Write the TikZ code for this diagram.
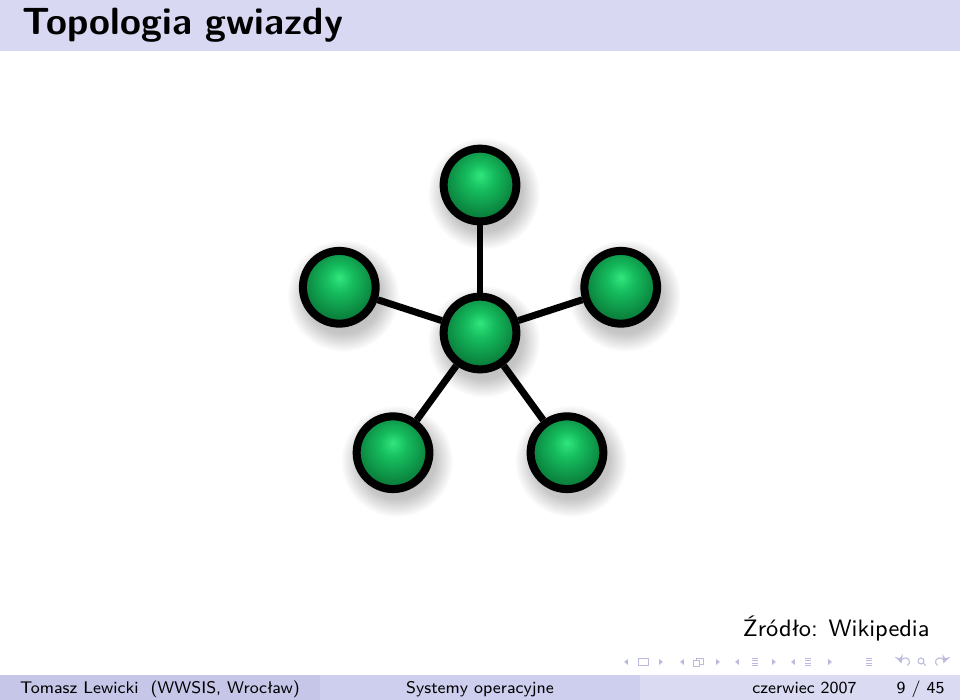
\documentclass[tikz,border=0pt]{standalone}
\usepackage{fontspec}
\usepackage{tikz}

\definecolor{titlebg}{RGB}{216,216,242}
\definecolor{footauthor}{RGB}{198,198,233}
\definecolor{foottitle}{RGB}{206,206,238}
\definecolor{footdate}{RGB}{218,218,243}
\definecolor{navgray}{RGB}{186,186,222}
\definecolor{ballhi}{RGB}{50,230,125}
\definecolor{ballmid}{RGB}{22,190,95}
\definecolor{balllo}{RGB}{10,128,60}

\pgfdeclareradialshading{greenball}{\pgfpoint{0bp}{7bp}}{color(0bp)=(ballhi); color(9bp)=(ballmid); color(25bp)=(balllo); color(50bp)=(balllo)}
\pgfdeclareradialshading{ballshadow}{\pgfpointorigin}{color(0bp)=(black!34); color(17bp)=(black!22); color(25bp)=(white); color(50bp)=(white)}

\tikzset{
  ball/.style={circle, draw=black, line width=1.07mm, minimum size=9.7mm, inner sep=0pt, shading=greenball},
  link/.style={line width=0.93mm, black},
  footlabel/.style={font=\fontsize{6.4}{7}\selectfont\sffamily, anchor=base, inner sep=0pt},
}

\begin{document}
\begin{tikzpicture}
\useasboundingbox (0,0) rectangle (12.8,9.333);
\fill[white] (0,0) rectangle (12.8,9.333);

% title bar
\fill[titlebg] (0,8.653) rectangle (12.8,9.333);
\node[anchor=base west, inner sep=0pt, font=\Large\bfseries\sffamily] (title) at (0.29,8.87) {Topologia gwiazdy};

% star
\coordinate (c) at (6.4,4.893);
\foreach \a in {90,18,306,234,162}
  \shade[shading=ballshadow] ([shift={(\a:1.973)}]c) ++(0.05,-0.11) circle (0.75);
\shade[shading=ballshadow] (c) ++(0.05,-0.11) circle (0.75);

\node[ball] (hub) at (c) {};
\foreach \a [count=\i] in {90,18,306,234,162}
  \node[ball] (pc\i) at ([shift={(\a:1.973)}]c) {};
\foreach \i in {1,...,5}
  \draw[link] (hub) -- (pc\i);

\node[anchor=base east, inner sep=0pt, font=\small\sffamily] (source) at (12.4,0.84) {Źródło: Wikipedia};

% navigation symbols
\foreach \x in {8.347,9.093,9.827,10.573}
  \fill[navgray] (\x+0.025,0.547) -- (\x-0.025,0.507) -- (\x+0.025,0.467) -- cycle;
\foreach \x in {8.813,9.573,10.32,11.067}
  \fill[navgray] (\x-0.025,0.547) -- (\x+0.025,0.507) -- (\x-0.025,0.467) -- cycle;
\draw[navgray, line width=0.35pt] (8.507,0.46) rectangle (8.64,0.553);
\draw[navgray, line width=0.35pt] (9.29,0.48) rectangle (9.38,0.56);
\filldraw[navgray, fill=white, line width=0.35pt] (9.24,0.45) rectangle (9.33,0.53);
\foreach \x in {10.067,10.773,11.587} {
  \draw[navgray, line width=0.35pt] (\x-0.045,0.46) -- (\x+0.045,0.46);
  \draw[navgray, line width=0.35pt] (\x-0.035,0.493) -- (\x+0.035,0.493);
  \draw[navgray, line width=0.35pt] (\x-0.035,0.522) -- (\x+0.035,0.522);
  \draw[navgray, line width=0.35pt] (\x-0.045,0.555) -- (\x+0.045,0.555);
}
\draw[navgray, line width=0.4pt, -stealth] (12.10,0.46) arc (-60:200:0.055);
\draw[navgray, line width=0.4pt] (12.28,0.52) circle (0.04) (12.308,0.492) -- (12.34,0.46);
\draw[navgray, line width=0.4pt, -stealth] (12.50,0.46) arc (240:-20:0.055);

% footline
\fill[footauthor] (0,0) rectangle (4.267,0.333);
\fill[foottitle] (4.267,0) rectangle (8.533,0.333);
\fill[footdate] (8.533,0) rectangle (12.8,0.333);
\node[footlabel] (author) at (2.133,0.08) {Tomasz Lewicki~~(WWSIS, Wrocław)};
\node[footlabel] (talk) at (6.4,0.08) {Systemy operacyjne};
\node[footlabel, anchor=base east] (date) at (11.427,0.08) {czerwiec 2007};
\node[footlabel, anchor=base east] (page) at (12.6,0.08) {9 / 45};
\end{tikzpicture}
\end{document}
